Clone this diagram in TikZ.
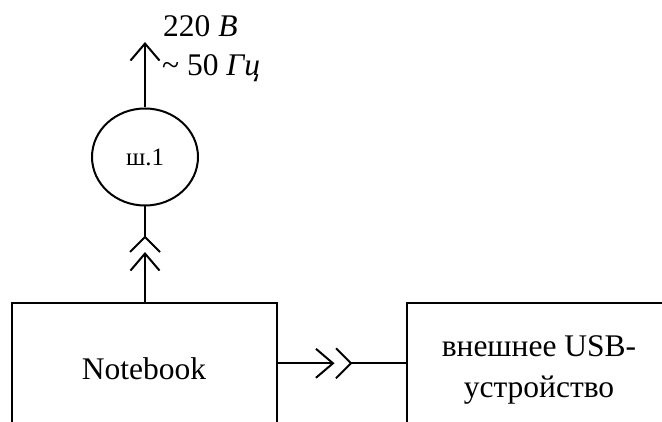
\documentclass[tikz,border=0pt]{standalone}
\usepackage{fontspec}
\setmainfont{Liberation Serif}
\usetikzlibrary{arrows.meta,shapes.geometric}
\begin{document}
\begin{tikzpicture}[x=1pt,y=-1pt,
  wire/.style={line width=2pt},
  plug/.style={wire,-{Straight Barb[length=17pt,width=29pt]}},
  block/.style={draw,line width=2pt,rectangle,inner sep=0pt},
  lbl/.style={font=\fontsize{31.5}{41}\selectfont,inner sep=0pt}]

\fill[white] (0,0) rectangle (662,422);
\clip (0,0) rectangle (662,422);

% blocks (their lower parts run off the sheet)
\node[block,minimum width=265pt,minimum height=150pt] (nb) at (144,378) {};
\node[lbl,anchor=base] (nbtext) at (144,379) {Notebook};

\node[block,minimum width=280pt,minimum height=150pt] (usb) at (547,378.5) {};
\node[lbl,anchor=base,align=center] (usbtext) at (539,397) {внешнее USB-\\устройство};

% mains plug
\node[draw,ellipse,wire,minimum width=106pt,minimum height=97pt,inner sep=0pt,
      font=\fontsize{25}{30}\selectfont] (sh) at (145,157) {ш.1};

\coordinate (mains) at (145,42);
\draw[plug] (sh.north) -- (mains);
\node[lbl,anchor=base west] (volt) at (163,36.7) {220 \textit{В}};
\node[lbl,anchor=base west] (freq) at (162,76) {\textasciitilde\ 50 \textit{Гц}};

% power connector
\coordinate (vplug) at (145,252);
\coordinate (vsock) at (145,237);
\draw[plug] (nb.north -| sh.south) -- (vplug);
\draw[wire] (sh.south) -- (vsock);
\draw[wire] (vsock) ++(-15,15) -- (vsock) -- ++(15,15);

% USB connector
\coordinate (hplug) at (334.5,363.3);
\coordinate (hsock) at (351,363.3);
\draw[plug] (nb.east |- hplug) -- (hplug);
\draw[wire] (hsock) ++(-15,-15) -- (hsock) -- ++(-15,15);
\draw[wire] (hsock) -- (usb.west |- hsock);
\end{tikzpicture}
\end{document}
